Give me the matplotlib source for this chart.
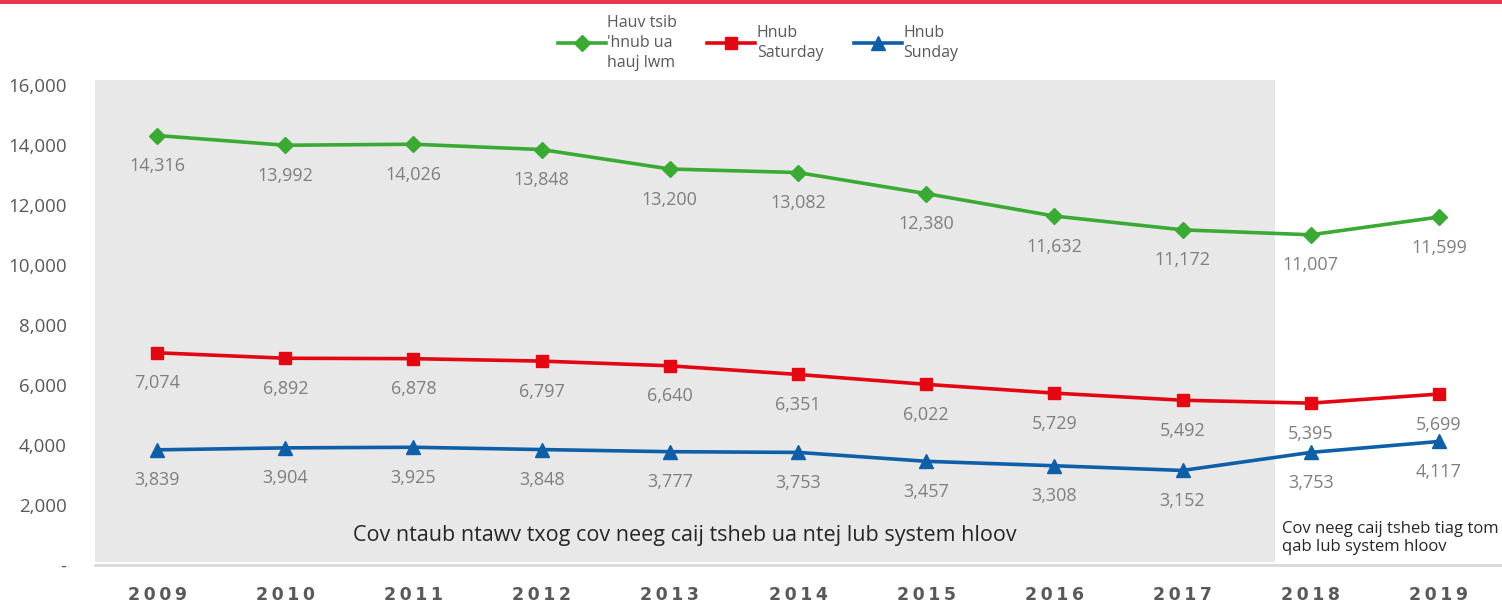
import matplotlib
matplotlib.use("Agg")
import matplotlib.pyplot as plt
from matplotlib.patches import Rectangle
from matplotlib.lines import Line2D

plt.rcParams['font.family'] = ['Open Sans', 'DejaVu Sans']

years = ["2009", "2010", "2011", "2012", "2013", "2014", "2015", "2016", "2017", "2018", "2019"]
weekday = [14316, 13992, 14026, 13848, 13200, 13082, 12380, 11632, 11172, 11007, 11599]
saturday = [7074, 6892, 6878, 6797, 6640, 6351, 6022, 5729, 5492, 5395, 5699]
sunday = [3839, 3904, 3925, 3848, 3777, 3753, 3457, 3308, 3152, 3753, 4117]

series_names = ["Hauv tsib\n'hnub ua\nhauj lwm", "Hnub\nSaturday", "Hnub\nSunday"]
yticks = [0, 2000, 4000, 6000, 8000, 10000, 12000, 14000, 16000]
ytick_labels = ["-", "2,000", "4,000", "6,000", "8,000", "10,000", "12,000", "14,000", "16,000"]

W, H = 1502, 605
fig = plt.figure(figsize=(W / 100, H / 100), dpi=100)

ax = fig.add_axes([93 / W, (H - 565) / H, (1503 - 93) / W, (565 - 85) / H])
ax.set_facecolor("none")
ax.set_xlim(-0.5, len(years) - 0.5)
ax.set_ylim(0, 16000)
for s in ax.spines.values():
    s.set_visible(False)

# top accent band
ax.add_patch(Rectangle((0, 1 - 4 / H), 1, 4 / H, transform=fig.transFigure,
                       facecolor="#E8384F", edgecolor="none", zorder=0, clip_on=False))
# shaded region for the older counting system
ax.add_patch(Rectangle((95 / W, 1 - 562 / H), (1275 - 95) / W, (562 - 80) / H,
                       transform=fig.transFigure, facecolor="#E8E8E8",
                       edgecolor="none", zorder=0, clip_on=False))
# baseline
ax.add_line(Line2D([95 / W, 1.0], [1 - 565 / H, 1 - 565 / H], transform=fig.transFigure,
                   color="#D9D9D9", lw=2, zorder=1, clip_on=False))

x = list(range(len(years)))
styles = [
    (weekday, "#3AAA35", "D", 8),
    (saturday, "#E30613", "s", 9),
    (sunday, "#0F5FA8", "^", 10),
]
handles = []
for (vals, col, mk, ms), name in zip(styles, series_names):
    h, = ax.plot(x, vals, color=col, lw=2.6, marker=mk, markersize=ms,
                 markeredgecolor=col, markerfacecolor=col, label=name, zorder=3,
                 clip_on=False)
    handles.append(h)
    for xi, v in zip(x, vals):
        ax.annotate(f"{v:,}", (xi, v), xytext=(0, -22), textcoords="offset points",
                    ha="center", va="center", fontsize=13, color="#7F7F7F")

ax.set_yticks(yticks)
ax.set_yticklabels(ytick_labels)
ax.tick_params(axis="y", length=0, pad=19, labelsize=13.5, labelcolor="#595959")
ax.set_xticks(x)
ax.set_xticklabels(["\u2009".join(y) for y in years], family="DejaVu Sans",
                   fontweight="bold")
ax.tick_params(axis="x", length=0, pad=15, labelsize=12.5, labelcolor="#595959")

fig.text(685 / W, 1 - 535 / H,
         "Cov ntaub ntawv txog cov neeg caij tsheb ua ntej lub system hloov",
         ha="center", va="center", fontsize=15.5, color="#262626")
fig.text(1282 / W, 1 - 538 / H, "Cov neeg caij tsheb tiag tom\nqab lub system hloov",
         ha="left", va="center", fontsize=12, color="#262626", linespacing=1.15)

leg = fig.legend(handles=handles, loc="center", bbox_to_anchor=(758 / W, 1 - 43 / H),
                 ncol=3, frameon=True, fontsize=11.5, labelcolor="#595959",
                 handlelength=3.0, columnspacing=1.9, handletextpad=0.1,
                 borderaxespad=0, borderpad=0.3)
leg.get_frame().set_facecolor("white")
leg.get_frame().set_edgecolor("none")
for t in leg.get_texts():
    t.set_linespacing(1.3)

fig.savefig("out.png", dpi=100)
